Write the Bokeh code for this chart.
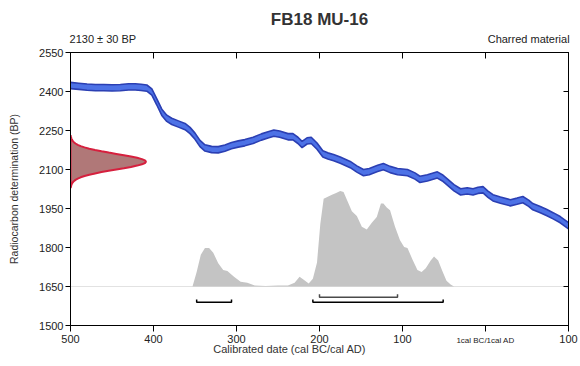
import numpy as np
from bokeh.plotting import figure
from bokeh.models import Range1d, FixedTicker, LinearAxis, Label, CustomJSTickFormatter
from bokeh.embed import file_html
from bokeh.resources import INLINE

# ---------------- data ----------------
title_text = "FB18 MU-16"
measurement_text = "2130 \u00b1 30 BP"
material_text = "Charred material"
x_label_text = "Calibrated date (cal BC/cal AD)"
y_label_text = "Radiocarbon determination (BP)"

x_ticks = [-500, -400, -300, -200, -100, 0, 100]
x_tick_labels = ["500", "400", "300", "200", "100", "", "100"]
zero_label = "1cal BC/1cal AD"
y_ticks = [1500, 1650, 1800, 1950, 2100, 2250, 2400, 2550]

# calibration curve (mean, BP) by calendar date (BC negative)
curve_dates = [-500, -490, -480, -470, -460, -450, -440, -430, -422, -415, -408, -402,
               -396, -390, -384, -378, -370, -362, -356, -350, -344, -338, -330, -322,
               -314, -306, -298, -290, -280, -270, -262, -255, -248, -238, -232, -226,
               -221, -215, -210, -203, -196, -190, -183, -175, -163, -155, -147, -140,
               -130, -123, -115, -106, -94, -85, -79, -70, -58, -52, -46, -38,
               -30, -22, -15, -9, -3, 3, 9, 18, 30, 38, 45, 52,
               57, 66, 74, 82, 90, 100]
curve_bp = [2423, 2420, 2417, 2415, 2415, 2414, 2415, 2418, 2418, 2416, 2413, 2398,
            2360, 2320, 2297, 2285, 2275, 2265, 2250, 2228, 2200, 2183, 2177, 2176,
            2182, 2192, 2198, 2203, 2212, 2225, 2233, 2240, 2236, 2226, 2226, 2212,
            2196, 2210, 2212, 2190, 2160, 2152, 2146, 2136, 2119, 2102, 2088, 2092,
            2104, 2111, 2100, 2092, 2088, 2075, 2062, 2068, 2079, 2068, 2052, 2030,
            2014, 2018, 2014, 2020, 2022, 2005, 1991, 1982, 1972, 1978, 1984, 1970,
            1957, 1946, 1934, 1921, 1907, 1884]
curve_halfwidth = 12

# measurement: 2130 +/- 30 BP, relative heights at BP offsets
meas_bp = 2130
gauss_offsets = [0, 5, 10, 15, 20, 25, 30, 35, 40, 45, 50, 55, 60, 65, 70, 75, 80, 85, 90, 95, 100]
gauss_heights = [1.000, 0.986, 0.946, 0.882, 0.801, 0.707, 0.607, 0.506, 0.411, 0.325, 0.249,
                 0.186, 0.135, 0.096, 0.066, 0.044, 0.029, 0.018, 0.011, 0.0067, 0.0039]
gauss_peak_years = 91

# calibrated probability distribution (relative)
prob_dates = [-360, -353, -348, -343, -338, -333, -328, -322, -316, -311, -303, -295,
              -287, -278, -265, -250, -238, -230, -224, -219, -213, -208, -203, -199,
              -195, -190, -185, -180, -175, -171, -167, -161, -155, -149, -143, -137,
              -131, -126, -123, -119, -115, -109, -103, -98, -94, -88, -82, -77,
              -72, -66, -62, -57, -52, -47, -42, -38, -30]
prob_vals = [0.0, 0.0, 0.15, 0.33, 0.40, 0.40, 0.35, 0.24, 0.17, 0.16, 0.10, 0.05,
             0.04, 0.01, 0.005, 0.01, 0.01, 0.04, 0.10, 0.07, 0.03, 0.08, 0.25, 0.65,
             0.91, 0.93, 0.95, 0.97, 0.99, 0.98, 0.90, 0.78, 0.73, 0.62, 0.59, 0.66,
             0.72, 0.86, 0.86, 0.82, 0.79, 0.62, 0.48, 0.41, 0.40, 0.28, 0.17, 0.15,
             0.19, 0.27, 0.31, 0.27, 0.16, 0.06, 0.02, 0.0, 0.0]
prob_base = 1650
prob_scale = 371

# ranges
range68 = [(-200, -106)]
range95 = [(-348, -306), (-208, -51)]
range68_bp = 1609
range95_bp = 1589
range_tick = 11

# header text anchors (calendar positions of the two header texts)
header_pos = [-461, 52]
header_texts = [measurement_text, material_text]

# ---------------- figure ----------------
FONT = "Liberation Sans"
p = figure(width=580, height=366, output_backend="svg", toolbar_location=None,
           x_range=Range1d(-500, 100), y_range=Range1d(1500, 2550),
           min_border_left=70, min_border_right=12, min_border_top=52, min_border_bottom=40,
           background_fill_color="white", border_fill_color="white")
p.grid.visible = False
p.outline_line_color = "black"
p.outline_line_width = 1

p.title.text = title_text
p.title.align = "center"
p.title.text_font = FONT
p.title.text_font_size = "17px"
p.title.text_font_style = "bold"
p.title.text_color = "#333333"
p.title.standoff = 1

# probability distribution
p.line([-500, 100], [prob_base, prob_base], line_color="#e2e2e2", line_width=1)
pv = np.array(prob_vals)
p.varea(x=prob_dates, y1=[prob_base] * len(prob_dates), y2=list(prob_base + pv * prob_scale),
        fill_color="#c4c4c4")

# calibration curve band
cb = np.array(curve_bp, dtype=float)
p.varea(x=curve_dates, y1=list(cb - curve_halfwidth), y2=list(cb + curve_halfwidth),
        fill_color="#4d72e6")
p.line(curve_dates, list(cb - curve_halfwidth), line_color="#2b3fb3", line_width=1.6)
p.line(curve_dates, list(cb + curve_halfwidth), line_color="#2b3fb3", line_width=1.6)

# measurement distribution
offs = [-o for o in gauss_offsets[::-1]] + gauss_offsets[1:]
hts = gauss_heights[::-1] + gauss_heights[1:]
gx = [-500] + [-500 + h * gauss_peak_years for h in hts] + [-500]
gy = [meas_bp - gauss_offsets[-1]] + [meas_bp + o for o in offs] + [meas_bp + gauss_offsets[-1]]
p.patch(gx, gy, fill_color="#b07878", line_color="#d6203e", line_width=2)

# ranges
for (a, b) in range68:
    p.line([a, a, b, b], [range68_bp + range_tick, range68_bp, range68_bp, range68_bp + range_tick],
           line_color="#4a4a4a", line_width=1.5)
for (a, b) in range95:
    p.line([a, a, b, b], [range95_bp + range_tick, range95_bp, range95_bp, range95_bp + range_tick],
           line_color="black", line_width=1.5)

# axes
xa = p.xaxis[0]
xa.ticker = FixedTicker(ticks=x_ticks)
xa.major_label_overrides = {t: l for t, l in zip(x_ticks, x_tick_labels)}
xa.major_tick_in = 0
xa.major_tick_out = 6
xa.minor_tick_out = 0
xa.minor_tick_line_color = None
xa.major_label_standoff = 3
xa.major_label_text_font = FONT
xa.major_label_text_font_size = "11px"
xa.major_label_text_color = "#222222"
xa.axis_line_color = "black"

ya = p.yaxis[0]
ya.ticker = FixedTicker(ticks=y_ticks)
ya.major_tick_in = 0
ya.major_tick_out = 5
ya.minor_tick_out = 0
ya.minor_tick_line_color = None
ya.major_label_standoff = 2
ya.major_label_text_font = FONT
ya.major_label_text_font_size = "11px"
ya.major_label_text_color = "#222222"
ya.axis_label = y_label_text
ya.axis_label_text_font = FONT
ya.axis_label_text_font_size = "10.5px"
ya.axis_label_text_font_style = "normal"
ya.axis_label_text_color = "#333333"
ya.axis_label_standoff = 16

empty = CustomJSTickFormatter(code="return ''")
top = LinearAxis(ticker=FixedTicker(ticks=x_ticks), formatter=empty,
                 major_tick_in=6, major_tick_out=0, minor_tick_out=0, minor_tick_line_color=None,
                 major_label_text_font_size="0px", major_label_standoff=0)
right = LinearAxis(ticker=FixedTicker(ticks=y_ticks), formatter=empty,
                   major_tick_in=5, major_tick_out=0, minor_tick_out=0, minor_tick_line_color=None,
                   major_label_text_font_size="0px", major_label_standoff=0)
p.add_layout(top, "above")
p.add_layout(right, "right")

header = LinearAxis(ticker=FixedTicker(ticks=header_pos),
                    major_label_overrides={t: s for t, s in zip(header_pos, header_texts)},
                    major_tick_in=0, major_tick_out=0, minor_tick_out=0, minor_tick_in=0,
                    major_tick_line_color=None, minor_tick_line_color=None, axis_line_color=None,
                    major_label_text_font=FONT, major_label_text_font_size="11px",
                    major_label_text_color="#222222", major_label_standoff=8)
p.add_layout(header, "above")

# texts below the x axis
p.add_layout(Label(x=0, y=1442, text=zero_label, text_font=FONT, text_font_size="8px",
                   text_color="#222222", text_align="center", text_baseline="middle"), "below")
p.add_layout(Label(x=-236, y=1408, text=x_label_text, text_font=FONT, text_font_size="11px",
                   text_color="#333333", text_align="center", text_baseline="middle"), "below")

open("out.html", "w").write(file_html(p, INLINE))
